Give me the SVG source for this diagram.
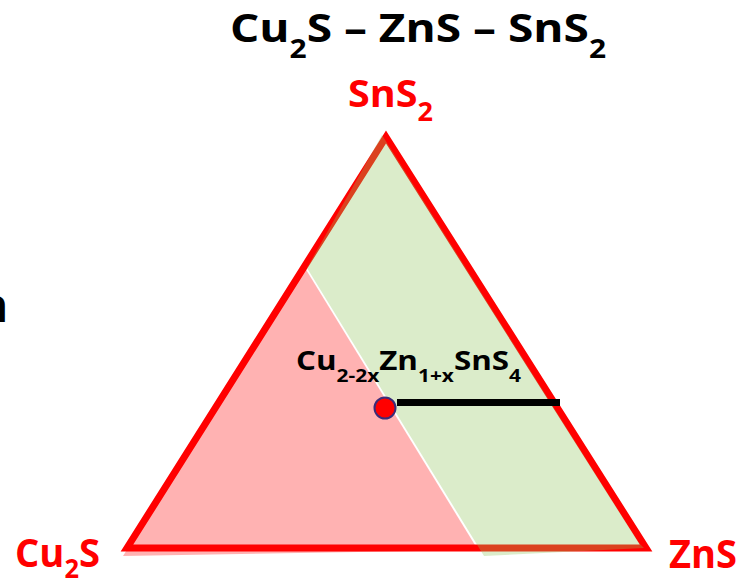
<svg xmlns="http://www.w3.org/2000/svg" width="741" height="580" viewBox="0 0 741 580">
<style>
.t{font-family:'Open Sans','Liberation Sans',sans-serif;font-weight:bold}
.red{fill:#ff0000}
.blk{fill:#000000}
</style>
<rect width="741" height="580" fill="#ffffff"/>
<g id="triangle">
<polygon points="386,137 646,548 127,548" fill="none" stroke="#ff0000" stroke-width="7" stroke-linejoin="miter"/>
</g>
<g id="regions">
<polygon id="green-region" points="382,135 639,543 644,548 484,556 307,268" fill="#92c45e" fill-opacity="0.33"/>
<polygon id="pink-region" points="305,268 123,556 478,550" fill="#ff0000" fill-opacity="0.3"/>
</g>
<g id="connectors">
<line x1="397" y1="402.5" x2="560" y2="402.5" stroke="#000000" stroke-width="7"/>
</g>
<g id="point">
<circle cx="385" cy="408" r="10.5" fill="#ff0000" stroke="#3c2c78" stroke-width="2"/>
</g>
<g id="title">
<text class="t blk" font-size="40" x="230" y="42" textLength="376" lengthAdjust="spacingAndGlyphs">Cu<tspan dy="16" font-size="26">2</tspan><tspan dy="-16">S – ZnS – SnS</tspan><tspan dy="16" font-size="26">2</tspan></text>
</g>
<g id="label-sns2">
<text class="t red" font-size="38" x="348" y="107" textLength="85" lengthAdjust="spacingAndGlyphs">SnS<tspan dy="14" font-size="26">2</tspan></text>
</g>
<g id="label-cu2s">
<text class="t red" font-size="39" x="15" y="567" textLength="85" lengthAdjust="spacingAndGlyphs">Cu<tspan dy="11" font-size="26">2</tspan><tspan dy="-11">S</tspan></text>
</g>
<g id="label-zns">
<text class="t red" font-size="39" x="669" y="568" textLength="68" lengthAdjust="spacingAndGlyphs">ZnS</text>
</g>
<g id="label-czts">
<text class="t blk" font-size="27" x="296" y="370" textLength="225" lengthAdjust="spacingAndGlyphs">Cu<tspan dy="12" font-size="18">2-2x</tspan><tspan dy="-12">Zn</tspan><tspan dy="12" font-size="18">1+x</tspan><tspan dy="-12">SnS</tspan><tspan dy="12" font-size="18">4</tspan></text>
</g>
<g id="edge-fragment">
<text class="t blk" font-size="46" x="-22" y="322">n</text>
</g>
</svg>
